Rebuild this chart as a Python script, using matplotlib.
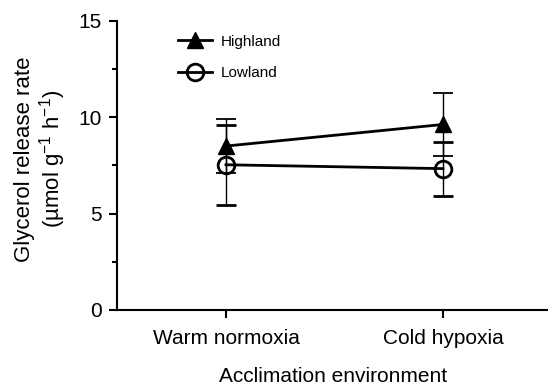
import numpy as np
import matplotlib
matplotlib.use("Agg")
from matplotlib import pyplot as plt
from matplotlib.ticker import MultipleLocator
from matplotlib.lines import Line2D

plt.rcParams['font.family'] = ['Liberation Sans', 'DejaVu Sans']
plt.rcParams['mathtext.fontset'] = 'custom'
plt.rcParams['mathtext.rm'] = 'Liberation Sans'
plt.rcParams['mathtext.default'] = 'regular'

# data (mean +/- SE)
conditions = ["Warm normoxia", "Cold hypoxia"]
highland_mean = [8.5, 9.62]
highland_se = [1.42, 1.63]
lowland_mean = [7.53, 7.33]
lowland_se = [2.08, 1.4]

x = np.arange(len(conditions))

fig = plt.figure(figsize=(5.48, 3.87), dpi=100)
ax = fig.add_axes([0.2144, 0.199, 0.7856, 0.7475])

hi_style = dict(color='black', marker='^', ms=11, lw=2)
lo_style = dict(color='black', marker='o', ms=12, mfc='none', mew=2, lw=2)

ax.errorbar(x, highland_mean, yerr=highland_se, elinewidth=1, capsize=7,
            capthick=1.3, zorder=3, **hi_style)
ax.errorbar(x, lowland_mean, yerr=lowland_se, elinewidth=1, capsize=7,
            capthick=1.3, zorder=4, **lo_style)

ax.set_xlim(-0.5, 1.484)
ax.set_ylim(0, 15)
ax.set_xticks(x)
ax.set_xticklabels(conditions)
ax.yaxis.set_major_locator(MultipleLocator(5))
ax.yaxis.set_minor_locator(MultipleLocator(2.5))

for s in ['top', 'right']:
    ax.spines[s].set_visible(False)
for s in ['left', 'bottom']:
    ax.spines[s].set_linewidth(1.5)

ax.tick_params(axis='both', which='major', length=5.5, width=1.5,
               labelsize=15, direction='out')
ax.tick_params(axis='x', pad=8)
ax.tick_params(axis='y', pad=6)
ax.tick_params(axis='y', which='minor', length=3.5, width=1.5)

ax.set_xlabel("Acclimation environment", fontsize=15, labelpad=14)

fig.text(25 / 548, 1 - 159 / 387, "Glycerol release rate", rotation=90,
         fontsize=16, ha='center', va='center')
fig.text(53 / 548, 1 - 159 / 387, "(µmol g$^{-1}$ h$^{-1}$)", rotation=90,
         fontsize=16, ha='center', va='center')

handles = [Line2D([], [], **hi_style), Line2D([], [], **lo_style)]
ax.legend(handles, ['Highland', 'Lowland'], loc='center left',
          bbox_to_anchor=(178 / 548, 1 - 57.5 / 387),
          bbox_transform=fig.transFigure, frameon=False, fontsize=11,
          handlelength=2.2, handletextpad=0.6, labelspacing=1.15,
          borderpad=0, borderaxespad=0)

fig.savefig("out.png", dpi=100)
